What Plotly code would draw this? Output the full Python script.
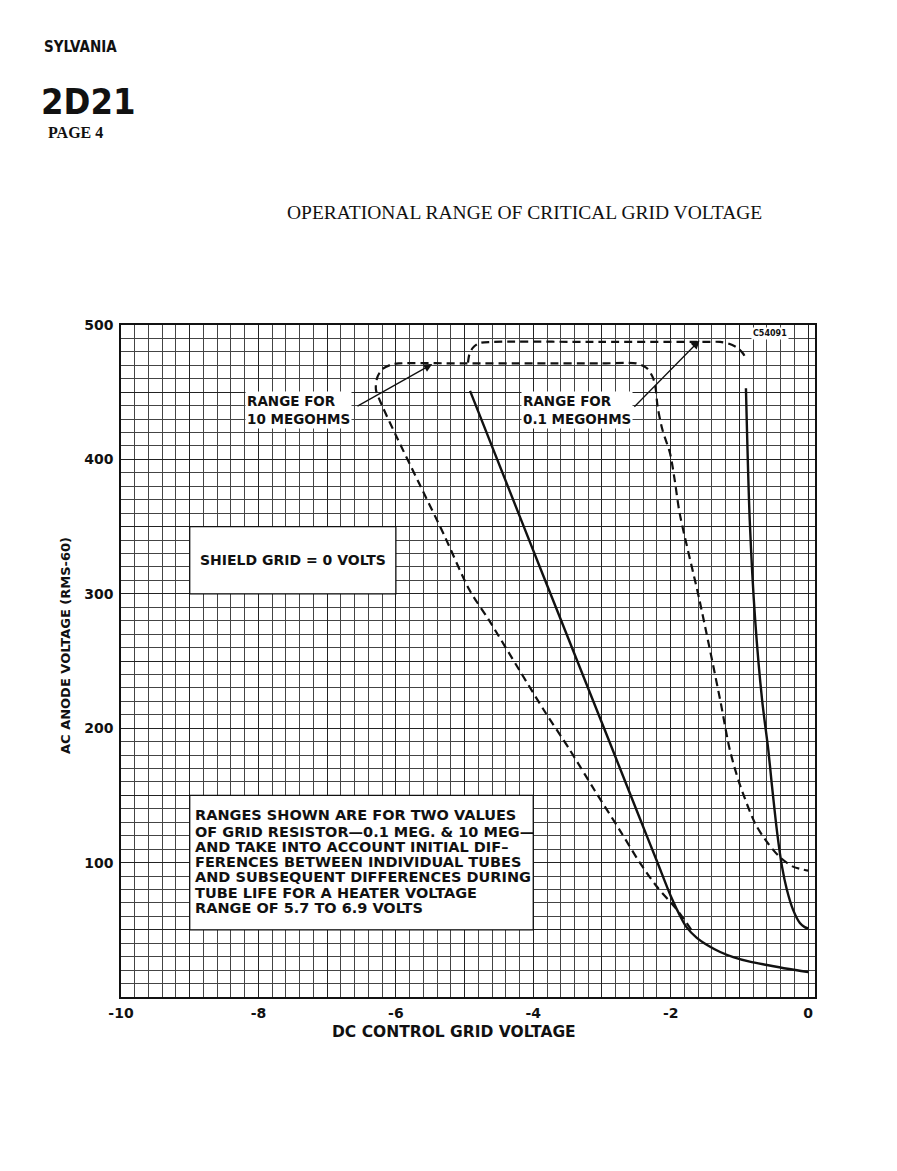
import plotly.graph_objects as go

# ---- data ----
x_ticks = [-10, -8, -6, -4, -2, 0]
y_ticks = [100, 200, 300, 400, 500]

# 10 megohm range (dashed, one continuous boundary)
meg10_x = [-1.70, -1.91, -2.20, -2.45, -2.74, -3.11, -3.47, -3.84, -4.20, -4.64, -4.93,
           -5.30, -5.66, -6.00, -6.20, -6.29, -6.27, -6.20, -6.08, -5.96, -5.0, -4.0, -3.0,
           -2.5, -2.35, -2.26, -2.22, -2.19, -2.12, -2.01, -1.94, -1.87, -1.58, -1.28,
           -1.14, -1.0, -0.77, -0.58, -0.41, -0.22, 0.0]
meg10_y = [50, 65, 82, 100, 124, 154, 184, 213, 243, 280, 303,
           344, 382, 418, 440, 452, 461, 467, 470.3, 471.4, 471.4, 471.4, 471.4,
           471.4, 468, 461, 453, 439, 422, 404.5, 384, 360, 295, 221,
           184, 159, 129, 114, 104, 97, 94]

# 0.1 megohm range: left solid boundary
meg01_left_x = [-4.92, -4.2, -3.5, -2.9, -2.45, -2.2, -1.99, -1.86, -1.77, -1.62, -1.47,
                -1.28, -1.09, -0.85, -0.60, -0.30, 0.0]
meg01_left_y = [451, 358, 268, 191, 133, 101, 74, 60, 52, 44, 38.7,
                33.5, 29.7, 26.3, 23.8, 21, 18.6]
# 0.1 megohm range: right solid boundary
meg01_right_x = [-0.905, -0.85, -0.77, -0.67, -0.58, -0.53, -0.45, -0.38, -0.31, -0.22,
                 -0.12, -0.05, 0.0]
meg01_right_y = [453, 355, 280, 221, 184, 159, 122, 97, 80, 65, 55, 52, 51]
# 0.1 megohm range: dashed top
meg01_top_x = [-4.95, -4.93, -4.88, -4.79, -4.6, -3.0, -1.5, -1.28, -1.15, -1.03, -0.95, -0.905]
meg01_top_y = [472, 478, 483, 486.5, 487.4, 487.4, 487.4, 487.4, 486, 483, 479, 475]

note_lines = [
    "RANGES SHOWN ARE FOR TWO VALUES",
    "OF GRID RESISTOR\u20140.1 MEG. & 10 MEG\u2014",
    "AND TAKE INTO ACCOUNT INITIAL DIF\u2013",
    "FERENCES BETWEEN INDIVIDUAL TUBES",
    "AND SUBSEQUENT DIFFERENCES DURING",
    "TUBE LIFE FOR A HEATER VOLTAGE",
    "RANGE OF 5.7 TO 6.9 VOLTS",
]
note_y = [135.3, 122.9, 111.7, 100.6, 89.0, 77.5, 65.9]

LET = "DejaVu Sans"
BLK = "#111111"

fig = go.Figure()
dash = "8px,5px"
fig.add_trace(go.Scatter(x=meg10_x, y=meg10_y, mode="lines",
                         line=dict(color=BLK, width=2.2, dash=dash, shape="spline", smoothing=0.8),
                         showlegend=False, hoverinfo="skip"))
fig.add_trace(go.Scatter(x=meg01_top_x, y=meg01_top_y, mode="lines",
                         line=dict(color=BLK, width=2.2, dash=dash, shape="spline", smoothing=0.8),
                         showlegend=False, hoverinfo="skip"))
fig.add_trace(go.Scatter(x=meg01_left_x, y=meg01_left_y, mode="lines",
                         line=dict(color=BLK, width=2.4, shape="spline", smoothing=0.8),
                         showlegend=False, hoverinfo="skip"))
fig.add_trace(go.Scatter(x=meg01_right_x, y=meg01_right_y, mode="lines",
                         line=dict(color=BLK, width=2.4, shape="spline", smoothing=0.8),
                         showlegend=False, hoverinfo="skip"))

xt_vals = list(range(-10, 1))
xt_text = [str(v) if v in x_ticks else "" for v in xt_vals]
yt_vals = list(range(0, 501, 50))
yt_text = [str(v) if v in y_ticks else "" for v in yt_vals]

fig.update_xaxes(range=[-10, 0.1], tickmode="array", tickvals=xt_vals, ticktext=xt_text,
                 showgrid=True, gridcolor="#222", gridwidth=1.3, zeroline=False,
                 showline=True, linecolor="#111", linewidth=1.6, mirror=True, ticks="",
                 ticklabelstandoff=2,
                 tickfont=dict(family=LET, size=14, color=BLK, weight="bold"),
                 minor=dict(tickmode="linear", tick0=-10, dtick=0.2, showgrid=True,
                            gridcolor="#444", gridwidth=0.8))
fig.update_yaxes(range=[0, 500], tickmode="array", tickvals=yt_vals, ticktext=yt_text,
                 showgrid=True, gridcolor="#222", gridwidth=1.3, zeroline=False,
                 showline=True, linecolor="#111", linewidth=1.6, mirror=True, ticks="",
                 ticklabelstandoff=3,
                 tickfont=dict(family=LET, size=14, color=BLK, weight="bold"),
                 minor=dict(tickmode="linear", tick0=0, dtick=10, showgrid=True,
                            gridcolor="#444", gridwidth=0.8))

# white boxes
fig.add_shape(type="rect", x0=-9, x1=-6, y0=300, y1=350, xref="x", yref="y",
              fillcolor="white", line=dict(color=BLK, width=1.3), layer="above")
fig.add_shape(type="rect", x0=-9, x1=-4, y0=50, y1=150, xref="x", yref="y",
              fillcolor="white", line=dict(color=BLK, width=1.3), layer="above")

ann = []
ann.append(dict(x=-7.5, y=325, xref="x", yref="y", text="SHIELD GRID = 0 VOLTS",
                showarrow=False, font=dict(family=LET, size=14, color=BLK, weight="bold")))
for t, yy in zip(note_lines, note_y):
    ann.append(dict(x=-8.95, y=yy, xref="x", yref="y", text=t, xanchor="left",
                    showarrow=False, font=dict(family=LET, size=14.5, color=BLK, weight="bold")))
ann.append(dict(x=-8.2, y=437, xref="x", yref="y", text="RANGE FOR<br>10 MEGOHMS",
                xanchor="left", align="left", showarrow=False, bgcolor="white", borderpad=1,
                font=dict(family=LET, size=13.5, color=BLK, weight="bold")))
ann.append(dict(x=-4.18, y=437, xref="x", yref="y", text="RANGE FOR<br>0.1 MEGOHMS",
                xanchor="left", align="left", showarrow=False, bgcolor="white", borderpad=1,
                font=dict(family=LET, size=13.5, color=BLK, weight="bold")))
# arrows
ann.append(dict(x=-5.47, y=471, ax=-6.58, ay=439, xref="x", yref="y", axref="x", ayref="y",
                text="", showarrow=True, arrowhead=2, arrowsize=1.3, arrowwidth=1.3, arrowcolor=BLK))
ann.append(dict(x=-1.58, y=488.5, ax=-2.55, ay=438, xref="x", yref="y", axref="x", ayref="y",
                text="", showarrow=True, arrowhead=2, arrowsize=1.3, arrowwidth=1.3, arrowcolor=BLK))
ann.append(dict(x=-0.555, y=493.7, xref="x", yref="y", text="C54091", showarrow=False,
                bgcolor="white", borderpad=1, font=dict(family=LET, size=8, color=BLK, weight="bold")))

# axis titles
ann.append(dict(x=-5.15, y=-0.052, xref="x", yref="paper", yanchor="middle", xanchor="center",
                text="DC CONTROL GRID VOLTAGE", showarrow=False,
                font=dict(family=LET, size=15.5, color=BLK, weight="bold")))
ann.append(dict(x=(65 - 121) / 694, y=(997 - 646) / 672, xref="paper", yref="paper",
                xanchor="center", yanchor="middle",
                text="AC ANODE VOLTAGE (RMS-60)", textangle=-90, showarrow=False,
                font=dict(family=LET, size=13, color=BLK, weight="bold")))

# page header
COND = "DejaVu Sans Condensed, Liberation Sans Narrow, sans-serif"
ann.append(dict(x=(42 - 121) / 694, y=(997 - 47) / 672, xref="paper", yref="paper",
                xanchor="left", yanchor="middle", text="SYLVANIA", showarrow=False,
                font=dict(family=COND, size=15, color=BLK, weight="bold")))
ann.append(dict(x=(39 - 121) / 694, y=(997 - 101) / 672, xref="paper", yref="paper",
                xanchor="left", yanchor="middle", text="2D21", showarrow=False,
                font=dict(family=COND, size=36, color=BLK, weight="bold")))
ann.append(dict(x=(46 - 121) / 694, y=(997 - 132.5) / 672, xref="paper", yref="paper",
                xanchor="left", yanchor="middle", text="PAGE 4", showarrow=False,
                font=dict(family="Liberation Serif", size=16, color=BLK, weight="bold")))
ann.append(dict(x=(524 - 121) / 694, y=(997 - 213) / 672, xref="paper", yref="paper",
                xanchor="center", yanchor="middle",
                text="OPERATIONAL RANGE OF CRITICAL GRID VOLTAGE", showarrow=False,
                font=dict(family="Liberation Serif", size=19.5, color=BLK)))

# page body has an 8px default margin, so the figure is offset by 8px
fig.update_layout(width=889, height=1163, margin=dict(l=113, r=82, t=317, b=174),
                  paper_bgcolor="white", plot_bgcolor="white", annotations=ann,
                  showlegend=False)

fig.write_html("out.html")
